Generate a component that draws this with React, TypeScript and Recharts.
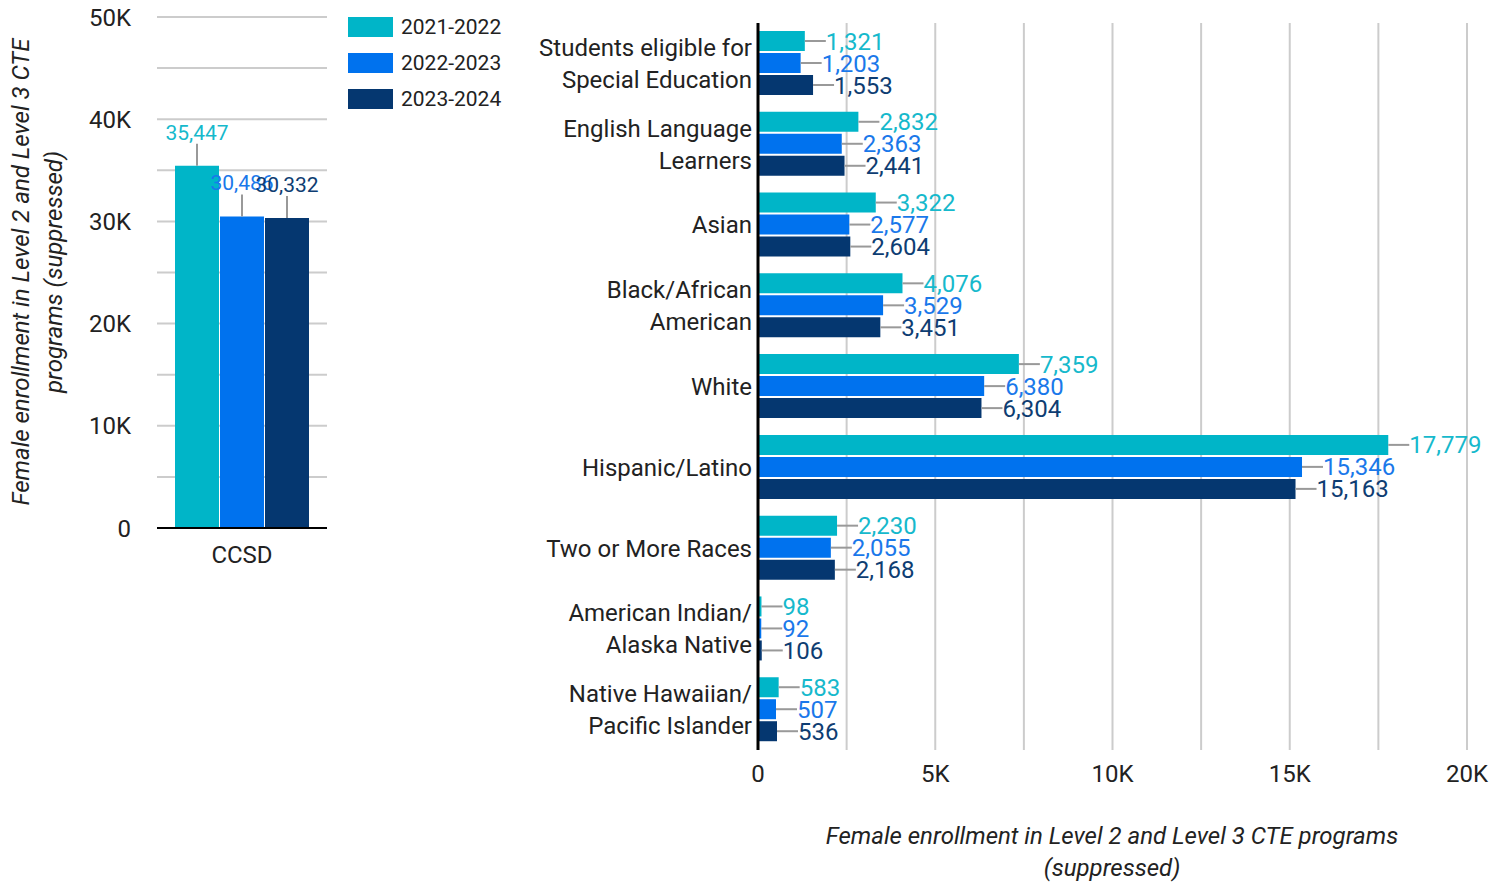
import React from "react";
import { BarChart, Bar, XAxis, YAxis, CartesianGrid, LabelList } from "recharts";

const years = ["2021-2022", "2022-2023", "2023-2024"];
const colors = ["#00b5c8", "#0072ee", "#053770"];
const labelColors = ["#16b9cc", "#1a78ea", "#0e3d72"];

// left panel
const districts = ["CCSD"];
const district2122 = [35447];
const district2223 = [30486];
const district2324 = [30332];
const leftTicks = [0, 5000, 10000, 15000, 20000, 25000, 30000, 35000, 40000, 45000, 50000];

// right panel
const groups = [
  "Students eligible for|Special Education",
  "English Language|Learners",
  "Asian",
  "Black/African|American",
  "White",
  "Hispanic/Latino",
  "Two or More Races",
  "American Indian/|Alaska Native",
  "Native Hawaiian/|Pacific Islander",
];
const group2122 = [1321, 2832, 3322, 4076, 7359, 17779, 2230, 98, 583];
const group2223 = [1203, 2363, 2577, 3529, 6380, 15346, 2055, 92, 507];
const group2324 = [1553, 2441, 2604, 3451, 6304, 15163, 2168, 106, 536];
const rightTicks = [0, 2500, 5000, 7500, 10000, 12500, 15000, 17500, 20000];

const keys = ["y1", "y2", "y3"];

const leftData = districts.map((name, i) => ({
  name,
  y1: district2122[i],
  y2: district2223[i],
  y3: district2324[i],
}));

const rightData = groups.map((name, i) => ({
  name,
  y1: group2122[i],
  y2: group2223[i],
  y3: group2324[i],
}));

const fmtK = (v: number) => (v % 5000 === 0 ? (v === 0 ? "0" : `${v / 1000}K`) : "");
const fmtK10 = (v: number) => (v % 10000 === 0 ? (v === 0 ? "0" : `${v / 1000}K`) : "");

const makeTopLabel = (color: string) => (props: any) => {
  const { x, y, width, value } = props;
  const cx = x + width / 2;
  return (
    <g>
      <line x1={cx} y1={y} x2={cx} y2={y - 22} stroke="#999" strokeWidth={2} />
      <text x={cx} y={y - 26} textAnchor="middle" fill={color} fontSize={21}>
        {Number(value).toLocaleString("en-US")}
      </text>
    </g>
  );
};

const makeSideLabel = (color: string) => (props: any) => {
  const { x, y, width, height, value } = props;
  const ex = x + width;
  const cy = y + height / 2;
  return (
    <g>
      <line x1={ex} y1={cy} x2={ex + 21} y2={cy} stroke="#999" strokeWidth={2} />
      <text x={ex + 21} y={cy + 8.5} fill={color} fontSize={24}>
        {Number(value).toLocaleString("en-US")}
      </text>
    </g>
  );
};

const GroupTick = (props: any) => {
  const { x, y, payload } = props;
  const lines = String(payload.value).split("|");
  const start = -((lines.length - 1) * 32) / 2;
  return (
    <g>
      {lines.map((ln, i) => (
        <text key={i} x={x} y={y + start + i * 32 + 8.5} textAnchor="end" fill="#222" fontSize={24}>
          {ln}
        </text>
      ))}
    </g>
  );
};

export default function App() {
  return (
    <div
      style={{
        position: "absolute",
        left: 0,
        top: 0,
        width: 1506,
        height: 884,
        background: "#fff",
        fontFamily: "Roboto, sans-serif",
      }}
    >
      <div style={{ position: "absolute", left: 0, top: 0 }}>
        <BarChart
          width={340}
          height={600}
          data={leftData}
          margin={{ top: 17, right: 13, left: 0, bottom: 32 }}
          barCategoryGap={18}
          barGap={1}
        >
          <CartesianGrid vertical={false} stroke="#ccc" strokeWidth={2} />
          <XAxis
            dataKey="name"
            height={40}
            tickLine={false}
            tickSize={0}
            tickMargin={18}
            axisLine={{ stroke: "#000", strokeWidth: 2 }}
            tick={{ fill: "#222", fontSize: 24 }}
          />
          <YAxis
            type="number"
            domain={[0, 50000]}
            ticks={leftTicks}
            interval={0}
            width={157}
            tickLine={false}
            tickSize={0}
            tickMargin={26}
            axisLine={false}
            tickFormatter={fmtK10}
            tick={{ fill: "#222", fontSize: 24 }}
          />
          {keys.map((k, i) => (
            <Bar key={k} dataKey={k} name={years[i]} fill={colors[i]} isAnimationActive={false}>
              <LabelList dataKey={k} content={makeTopLabel(labelColors[i])} />
            </Bar>
          ))}
        </BarChart>
      </div>

      {/* legend */}
      <div style={{ position: "absolute", left: 348, top: 9 }}>
        {years.map((yr, i) => (
          <div key={yr} style={{ display: "flex", alignItems: "center", height: 36 }}>
            <div style={{ width: 45, height: 20, background: colors[i], marginRight: 8 }} />
            <span style={{ fontSize: 21, color: "#222" }}>{yr}</span>
          </div>
        ))}
      </div>

      <div
        style={{
          position: "absolute",
          left: 38,
          top: 272,
          transform: "translate(-50%, -50%) rotate(-90deg)",
          whiteSpace: "nowrap",
          textAlign: "center",
          fontStyle: "italic",
          fontSize: 24,
          lineHeight: "33px",
          color: "#222",
        }}
      >
        Female enrollment in Level 2 and Level 3 CTE
        <br />
        programs (suppressed)
      </div>

      <div style={{ position: "absolute", left: 500, top: 0 }}>
        <BarChart
          layout="vertical"
          width={1006}
          height={884}
          data={rightData}
          margin={{ top: 23, right: 39, left: 0, bottom: 74 }}
          barSize={20}
          barGap={2}
        >
          <CartesianGrid horizontal={false} stroke="#ccc" strokeWidth={2} />
          <XAxis
            type="number"
            domain={[0, 20000]}
            ticks={rightTicks}
            interval={0}
            height={60}
            tickLine={false}
            tickSize={0}
            tickMargin={15}
            axisLine={false}
            tickFormatter={fmtK}
            tick={{ fill: "#222", fontSize: 24 }}
          />
          <YAxis
            type="category"
            dataKey="name"
            width={258}
            tickLine={false}
            tickSize={0}
            tickMargin={6}
            interval={0}
            axisLine={{ stroke: "#000", strokeWidth: 3 }}
            tick={<GroupTick />}
          />
          {keys.map((k, i) => (
            <Bar key={k} dataKey={k} name={years[i]} fill={colors[i]} isAnimationActive={false}>
              <LabelList dataKey={k} content={makeSideLabel(labelColors[i])} />
            </Bar>
          ))}
        </BarChart>
      </div>

      <div
        style={{
          position: "absolute",
          left: 1112,
          top: 852,
          transform: "translate(-50%, -50%)",
          whiteSpace: "nowrap",
          textAlign: "center",
          fontStyle: "italic",
          fontSize: 24,
          lineHeight: "32px",
          color: "#222",
        }}
      >
        Female enrollment in Level 2 and Level 3 CTE programs
        <br />
        (suppressed)
      </div>
    </div>
  );
}
